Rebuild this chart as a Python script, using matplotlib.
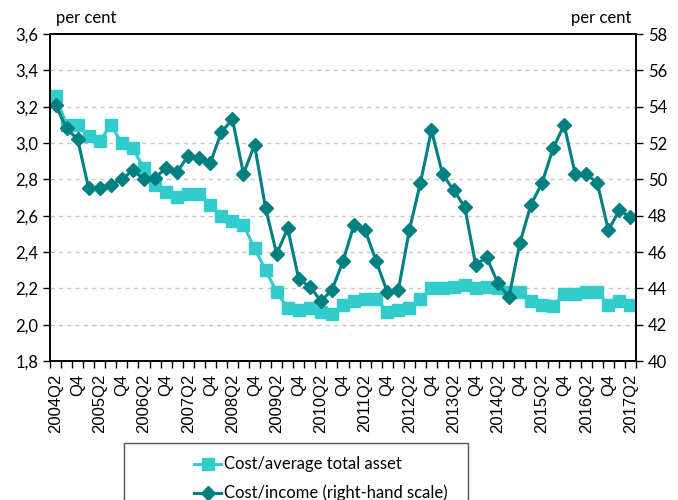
import matplotlib.pyplot as plt
from matplotlib.patches import Rectangle

plt.rcParams['font.family'] = ['Lato', 'DejaVu Sans']

# quarters 2004Q2 .. 2017Q2
years = list(range(2004, 2018))
quarters = []
for y in years:
    for q in (1, 2, 3, 4):
        if (y == 2004 and q < 2) or (y == 2017 and q > 2):
            continue
        quarters.append(f"{y}Q{q}")

cost_assets = [3.26, 3.10, 3.10, 3.04, 3.01, 3.10, 3.00, 2.97, 2.86, 2.77,
               2.73, 2.70, 2.72, 2.72, 2.66, 2.60, 2.57, 2.55, 2.42, 2.30,
               2.18, 2.09, 2.08, 2.09, 2.07, 2.06, 2.11, 2.13, 2.14, 2.14,
               2.07, 2.08, 2.09, 2.14, 2.20, 2.20, 2.21, 2.22, 2.20, 2.21,
               2.20, 2.18, 2.18, 2.13, 2.11, 2.10, 2.17, 2.17, 2.18, 2.18,
               2.11, 2.13, 2.11]

cost_income = [54.1, 52.8, 52.2, 49.5, 49.5, 49.7, 50.0, 50.5, 50.0, 50.1,
               50.6, 50.4, 51.3, 51.2, 50.9, 52.6, 53.3, 50.3, 51.9, 48.4,
               45.9, 47.3, 44.5, 44.1, 43.3, 43.9, 45.5, 47.5, 47.2, 45.5,
               43.8, 43.9, 47.2, 49.8, 52.7, 50.3, 49.4, 48.5, 45.3, 45.7,
               44.3, 43.5, 46.5, 48.6, 49.8, 51.7, 53.0, 50.3, 50.3, 49.8,
               47.2, 48.3, 47.9]

# only Q2 (with year) and Q4 are shown
tick_labels = [q if q.endswith("Q2") else "Q4" for q in quarters[::2]]

light = "#33CCCC"
dark = "#008080"

fig = plt.figure(figsize=(6.78, 5.0), dpi=100)
ax = fig.add_axes([50 / 678, 1 - 361 / 500, 586 / 678, 327 / 500])
ax2 = ax.twinx()

x = list(range(len(quarters)))
l1, = ax.plot(x, cost_assets, color=light, lw=2.2, marker="s", ms=8.5,
              label="Cost/average total asset")
l2, = ax2.plot(x, cost_income, color=dark, lw=2.2, marker="D", ms=7,
               label="Cost/income (right-hand scale)")

ax.set_xlim(-0.5, len(quarters) - 0.5)
ax.set_ylim(1.8, 3.6)
ax2.set_ylim(40, 58)

lticks = [1.8, 2.0, 2.2, 2.4, 2.6, 2.8, 3.0, 3.2, 3.4, 3.6]
ax.set_yticks(lticks)
ax.set_yticklabels([f"{v:.1f}".replace(".", ",") for v in lticks])
ax2.set_yticks(list(range(40, 59, 2)))

ax.set_xticks([i - 0.5 for i in range(len(quarters) + 1)])
ax.set_xticklabels([])
ax.set_xticks(x[::2], minor=True)
ax.set_xticklabels(tick_labels, minor=True, rotation=90,
                   family=["Liberation Sans", "DejaVu Sans"])
ax.tick_params(axis="x", which="minor", length=0, pad=9, labelsize=12)
ax.tick_params(axis="x", which="major", length=5, width=1)
ax.tick_params(axis="y", length=5, width=1, labelsize=12)
ax2.tick_params(axis="y", length=5, width=1, labelsize=12)

for v in lticks[1:-1]:
    ax.axhline(v, color="#C8C8C8", lw=1, ls=(0, (3, 3)), zorder=0)

for a in (ax, ax2):
    for s in a.spines.values():
        s.set_linewidth(1.2)

fig.text(56 / 678, 1 - 18 / 500, "per cent", fontsize=12, va="center")
fig.text(631 / 678, 1 - 18 / 500, "per cent", fontsize=12, va="center",
         ha="right")

fig.patches.append(Rectangle((124 / 678, -0.05), 344 / 678, 1 - 443 / 500 + 0.05,
                             transform=fig.transFigure, fill=False,
                             edgecolor="#555555", lw=1))
fig.legend(handles=[l1, l2], loc="upper left",
           bbox_to_anchor=(186 / 678, 1 - 448 / 500), frameon=False,
           fontsize=12, handlelength=1.6, handletextpad=0.15,
           labelspacing=0.75, borderpad=0)

fig.savefig("out.png", dpi=100)
